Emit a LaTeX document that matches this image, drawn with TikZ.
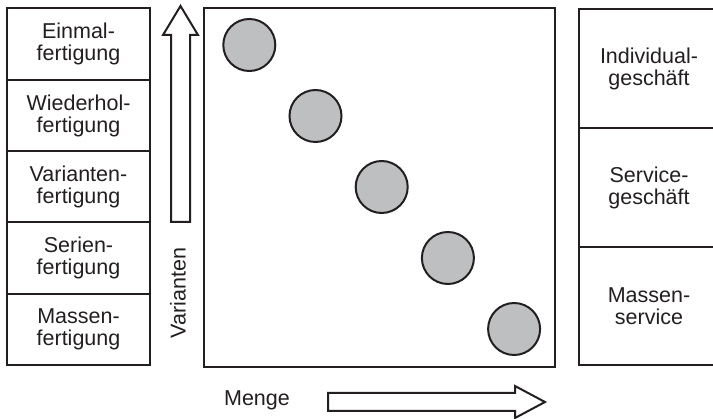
\documentclass[tikz,border=0pt]{standalone}
\usepackage{fontspec}
\setmainfont{Liberation Sans}
\definecolor{ink}{HTML}{231F20}
\definecolor{dotgray}{HTML}{BEBFC1}
\tikzset{
  frame/.style={draw=ink, line width=2pt},
  cell/.style={frame, rectangle, inner sep=0pt, align=center, text=ink,
    font=\fontsize{21.5}{22}\selectfont},
  lcell/.style={cell, minimum width=143pt},
  rcell/.style={cell, minimum width=140pt},
  dot/.style={frame, circle, fill=dotgray, minimum size=52pt, inner sep=0pt},
  bigarrow/.style={frame, fill=white, line join=miter},
  axislabel/.style={text=ink, inner sep=0pt, font=\fontsize{21.5}{22}\selectfont}
}
\begin{document}
\begin{tikzpicture}[x=1pt, y=-1pt]
  \clip (0,0) rectangle (713,419);
  \fill[white] (0,0) rectangle (713,419);

  % production types (left column)
  \node[lcell, minimum height=72pt] (einmal)  at (78.5, 44)    {Einmal-\\fertigung};
  \node[lcell, minimum height=71pt] (wieder)  at (78.5, 115.5) {Wiederhol-\\fertigung};
  \node[lcell, minimum height=71pt] (variant) at (78.5, 186.5) {Varianten-\\fertigung};
  \node[lcell, minimum height=72pt] (serie)   at (78.5, 258)   {Serien-\\fertigung};
  \node[lcell, minimum height=71pt] (masse)   at (78.5, 329.5) {Massen-\\fertigung};

  % business types (right column, open to the right)
  \node[rcell, minimum height=119pt] (indiv)    at (649, 68.5)  {Individual-\\geschäft};
  \node[rcell, minimum height=119pt] (service)  at (649, 187.5) {Service-\\geschäft};
  \node[rcell, minimum height=118pt] (massserv) at (649, 306)   {Massen-\\service};

  % central field with the diagonal of dots
  \node[frame, rectangle, minimum width=351pt, minimum height=359pt, inner sep=0pt]
    (field) at (379.5, 187.5) {};
  \foreach \i in {0,...,4} {
    \node[dot] (dot\i) at ({249.3 + 66.2*\i}, {45 + 71*\i}) {};
  }

  % vertical axis arrow
  \draw[bigarrow] (171,222) -- (171,35) -- (163,35) -- (180.5,6)
    -- (198,35) -- (190,35) -- (190,222) -- cycle;
  \node[axislabel, rotate=90] (varlabel) at (178, 293) {Varianten};

  % horizontal axis arrow
  \draw[bigarrow] (328,393) -- (515,393) -- (515,386) -- (545,402)
    -- (515,418) -- (515,411) -- (328,411) -- cycle;
  \node[axislabel] (mengelabel) at (257, 400) {Menge};
\end{tikzpicture}
\end{document}
